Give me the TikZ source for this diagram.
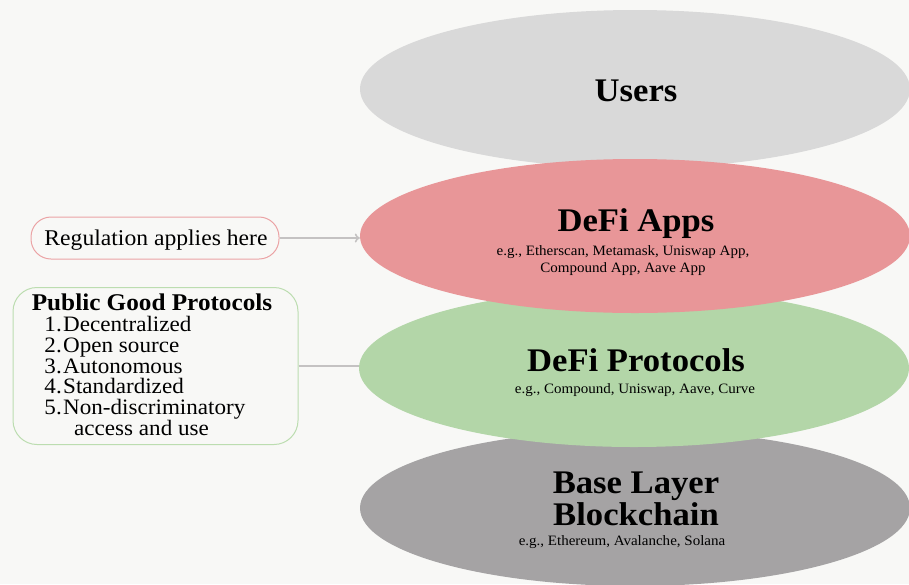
\documentclass[tikz,border=0pt]{standalone}
\usepackage{fontspec}
\setmainfont[FakeStretch=1.05]{Liberation Serif}
\usetikzlibrary{shapes.geometric,arrows.meta}
\definecolor{bgc}{HTML}{F8F8F6}
\definecolor{usersc}{HTML}{D9D9D9}
\definecolor{appsc}{HTML}{E89698}
\definecolor{protc}{HTML}{B3D6A8}
\definecolor{basec}{HTML}{A5A3A4}
\definecolor{regb}{HTML}{EBA3A5}
\definecolor{pgpb}{HTML}{BCDDB0}
\definecolor{linec}{HTML}{C4C2C2}
\tikzset{
  layer/.style={ellipse, inner sep=0pt, draw=none, minimum width=550pt},
  ttl/.style={font=\bfseries\fontsize{33}{33}\selectfont, anchor=base, inner sep=0pt},
  sub/.style={font=\fontsize{14.3}{16}\selectfont, anchor=base, inner sep=0pt},
  itemno/.style={font=\fontsize{22}{22}\selectfont, anchor=base east, inner sep=0pt},
  itemtx/.style={font=\fontsize{22}{22}\selectfont, anchor=base west, inner sep=0pt},
  conn/.style={draw=linec, line width=1.6pt},
}
\begin{document}
\begin{tikzpicture}[x=1pt,y=-1pt]
\fill[bgc] (0,0) rectangle (909,584);
\useasboundingbox (0,0) rectangle (909,584);
% layers
\node[layer, fill=usersc, minimum height=158pt] (users) at (635,89) {};
\node[layer, fill=basec, minimum height=156pt] (base) at (635,508) {};
\node[layer, fill=protc, minimum height=158pt] (prot) at (634,368) {};
\node[layer, fill=appsc, minimum height=154pt] (apps) at (635,236) {};
% titles
\node[ttl] (tusers) at (636,101) {Users};
\node[ttl] (tapps) at (636,231) {DeFi Apps};
\node[sub] (sapps1) at (623,255) {e.g., Etherscan, Metamask, Uniswap App,};
\node[sub] (sapps2) at (623,272) {Compound App, Aave App};
\node[ttl] (tprot) at (636,371) {DeFi Protocols};
\node[sub] (sprot) at (635,393) {e.g., Compound, Uniswap, Aave, Curve};
\node[ttl] (tbase1) at (636,493) {Base Layer};
\node[ttl] (tbase2) at (636,525) {Blockchain};
\node[sub] (sbase) at (622,545) {e.g., Ethereum, Avalanche, Solana};
% left boxes
\node[draw=regb, line width=1pt, rounded corners=20pt, fill=bgc, minimum width=248pt, minimum height=42pt, inner sep=0pt] (reg) at (155,238) {};
\node[font=\fontsize{22.5}{22.5}\selectfont, anchor=base, inner sep=0pt] (regt) at (156,245) {Regulation applies here};
\node[draw=pgpb, line width=1pt, rounded corners=24pt, fill=bgc, minimum width=285pt, minimum height=157pt, inner sep=0pt] (pgp) at (155.5,366) {};
\node[font=\bfseries\fontsize{24}{24}\selectfont, anchor=base, inner sep=0pt] (pgpt) at (152,310) {Public Good Protocols};
\node[itemno] (n1) at (62,331) {1.};
\node[itemtx] (i1) at (63,331) {Decentralized};
\node[itemno] (n2) at (62,352) {2.};
\node[itemtx] (i2) at (63,352) {Open source};
\node[itemno] (n3) at (62,373) {3.};
\node[itemtx] (i3) at (63,373) {Autonomous};
\node[itemno] (n4) at (62,393) {4.};
\node[itemtx] (i4) at (63,393) {Standardized};
\node[itemno] (n5) at (62,414) {5.};
\node[itemtx] (i5) at (63,414) {Non-discriminatory};
\node[itemtx] (i6) at (74,435) {access and use};
% connectors
\draw[conn, -{To[length=5pt,width=9pt]}] (reg.east) -- (reg.east -| apps.west);
\draw[conn] (pgp.east) -- (pgp.east -| prot.west);
\end{tikzpicture}
\end{document}
